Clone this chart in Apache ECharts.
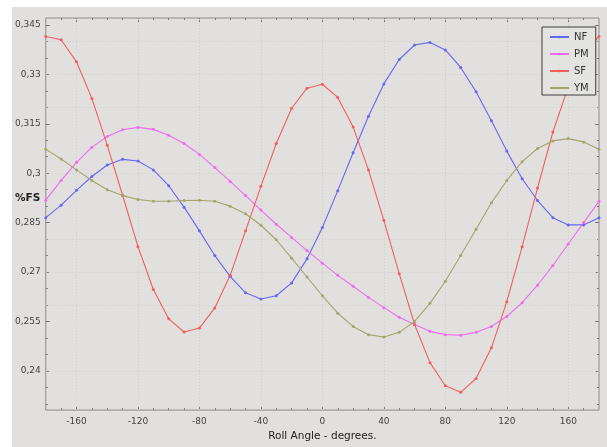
<!DOCTYPE html>
<html>
<head>
<meta charset="utf-8">
<title>%FS vs Roll Angle</title>
<script src="https://cdn.jsdelivr.net/npm/echarts@6/dist/echarts.min.js"></script>
<style>
  html, body { margin: 0; padding: 0; background: #ffffff; }
  #chart { position: absolute; left: 12px; top: 7px; width: 595px; height: 440px; background: #e1e0de; }
</style>
</head>
<body>
<div id="chart"></div>
<script>
// Roll angle (degrees) at each measurement
const angles = [-180, -170, -160, -150, -140, -130, -120, -110, -100, -90, -80, -70, -60, -50, -40, -30, -20, -10,
  0, 10, 20, 30, 40, 50, 60, 70, 80, 90, 100, 110, 120, 130, 140, 150, 160, 170, 180];

// %FS readings per channel
const nfValues = [0.2865, 0.2903, 0.2948, 0.2990, 0.3025, 0.3042, 0.3037, 0.3010, 0.2962, 0.2897, 0.2825, 0.2750,
  0.2687, 0.2637, 0.2618, 0.2628, 0.2667, 0.2740, 0.2835, 0.2947, 0.3062, 0.3173, 0.3271, 0.3345, 0.3389, 0.3397,
  0.3374, 0.3321, 0.3247, 0.3159, 0.3067, 0.2983, 0.2917, 0.2865, 0.2843, 0.2843, 0.2865];
const pmValues = [0.2918, 0.2978, 0.3033, 0.3079, 0.3111, 0.3132, 0.3139, 0.3133, 0.3115, 0.3090, 0.3057, 0.3017,
  0.2975, 0.2932, 0.2888, 0.2845, 0.2805, 0.2765, 0.2727, 0.2690, 0.2657, 0.2623, 0.2592, 0.2563, 0.2541, 0.2520,
  0.2510, 0.2508, 0.2517, 0.2535, 0.2565, 0.2607, 0.2660, 0.2720, 0.2785, 0.2850, 0.2915];
const sfValues = [0.3415, 0.3405, 0.3338, 0.3227, 0.3085, 0.2933, 0.2777, 0.2647, 0.2558, 0.2518, 0.2530, 0.2591,
  0.2690, 0.2825, 0.2960, 0.3090, 0.3197, 0.3258, 0.3270, 0.3230, 0.3140, 0.3010, 0.2857, 0.2695, 0.2541, 0.2425,
  0.2355, 0.2335, 0.2377, 0.2470, 0.2610, 0.2777, 0.2955, 0.3125, 0.3262, 0.3360, 0.3415];
const ymValues = [0.3073, 0.3043, 0.3010, 0.2978, 0.2950, 0.2932, 0.2920, 0.2915, 0.2915, 0.2917, 0.2918, 0.2915,
  0.2900, 0.2877, 0.2842, 0.2798, 0.2742, 0.2685, 0.2628, 0.2575, 0.2535, 0.2510, 0.2503, 0.2517, 0.2550, 0.2605,
  0.2672, 0.2750, 0.2830, 0.2910, 0.2978, 0.3035, 0.3075, 0.3098, 0.3105, 0.3095, 0.3073];

// Labelled ticks
const xTickLabels = [-160, -120, -80, -40, 0, 40, 80, 120, 160];
const yTickLabels = [0.24, 0.255, 0.27, 0.285, 0.3, 0.315, 0.33, 0.345];

const X_MIN = -180, X_MAX = 180;
const Y_MIN = 0.2281, Y_MAX = 0.3471;

// Minor ticks: every 10 degrees and every 0.005 %FS, skipping the labelled ones
const xMinor = [];
for (let v = -170; v <= 170; v += 10) if (!xTickLabels.includes(v)) xMinor.push(v);
const yMinor = [];
for (let i = 46; i <= 69; i++) {
  const v = +(i * 0.005).toFixed(3);
  if (!yTickLabels.some(t => Math.abs(t - v) < 1e-9)) yMinor.push(v);
}

const FONT = 'DejaVu Sans';
const chart = echarts.init(document.getElementById('chart'), null, { renderer: 'canvas' });

function xAxisDef(position, ticks, len, showLabels) {
  return {
    type: 'value', position: position, min: X_MIN, max: X_MAX,
    axisLine: { show: false, onZero: false },
    splitLine: { show: false },
    axisTick: { show: true, inside: true, length: len, customValues: ticks,
      lineStyle: { color: '#7a7a7a', width: 1 } },
    axisLabel: showLabels ? {
      show: true, customValues: ticks, margin: 7, color: '#444', fontSize: 9, fontFamily: FONT
    } : { show: false }
  };
}
function yAxisDef(position, ticks, len, showLabels) {
  return {
    type: 'value', position: position, min: Y_MIN, max: Y_MAX,
    axisLine: { show: false, onZero: false },
    splitLine: { show: false },
    axisTick: { show: true, inside: true, length: len, customValues: ticks,
      lineStyle: { color: '#7a7a7a', width: 1 } },
    axisLabel: showLabels ? {
      show: true, customValues: ticks, margin: 5, color: '#444', fontSize: 9, fontFamily: FONT,
      formatter: v => String(+v.toFixed(3)).replace('.', ',')
    } : { show: false }
  };
}

const xMain = xAxisDef('bottom', xTickLabels, 4, true);
xMain.name = 'Roll Angle - degrees.';
xMain.nameLocation = 'middle';
xMain.nameGap = 15;
xMain.nameTextStyle = { color: '#222', fontSize: 10.5, fontFamily: FONT };

function makeSeries(name, values, color) {
  return {
    name: name, type: 'line',
    xAxisIndex: 0, yAxisIndex: 0,
    data: angles.map((a, i) => [a, values[i]]),
    symbol: 'circle', symbolSize: 3,
    itemStyle: { color: color },
    lineStyle: { color: color, width: 1.1 },
    emphasis: { disabled: true },
    animation: false
  };
}

const series = [
  makeSeries('NF', nfValues, '#6767f2'),
  makeSeries('PM', pmValues, '#ef6cef'),
  makeSeries('SF', sfValues, '#f25e5e'),
  makeSeries('YM', ymValues, '#a7a46a')
];

// Faint dotted grid lines at the labelled ticks
series[0].markLine = {
  silent: true, symbol: 'none', animation: false,
  label: { show: false },
  lineStyle: { type: [1, 2], color: '#cfcfcd', width: 1 },
  z: 1,
  data: xTickLabels.map(v => ({ xAxis: v })).concat(yTickLabels.map(v => ({ yAxis: v })))
};

chart.setOption({
  backgroundColor: '#e1e0de',
  animation: false,
  grid: {
    left: 33, right: 8, top: 11, bottom: 33,
    show: true, backgroundColor: '#e1e0de', borderColor: '#8c8c8c', borderWidth: 1
  },
  xAxis: [
    xMain,
    xAxisDef('bottom', xMinor, 2, false),
    xAxisDef('top', xTickLabels, 4, false),
    xAxisDef('top', xMinor, 2, false)
  ],
  yAxis: [
    yAxisDef('left', yTickLabels, 4, true),
    yAxisDef('left', yMinor, 2, false),
    yAxisDef('right', yTickLabels, 4, false),
    yAxisDef('right', yMinor, 2, false)
  ],
  legend: {
    orient: 'vertical',
    left: 530, top: 20,
    padding: [4, 7, 1, 7],
    itemWidth: 19, itemHeight: 3, itemGap: 5, itemTextGap: 5,
    backgroundColor: '#e3e3e1',
    borderColor: '#3c3c3c', borderWidth: 1,
    textStyle: { color: '#333', fontSize: 10, fontFamily: FONT, lineHeight: 12 },
    data: ['NF', 'PM', 'SF', 'YM']
  },
  graphic: [{
    type: 'text', left: 3, top: 186,
    style: { text: '%FS', fill: '#222', font: 'bold 10.5px "DejaVu Sans"' }
  }],
  series: series
});
</script>
</body>
</html>
